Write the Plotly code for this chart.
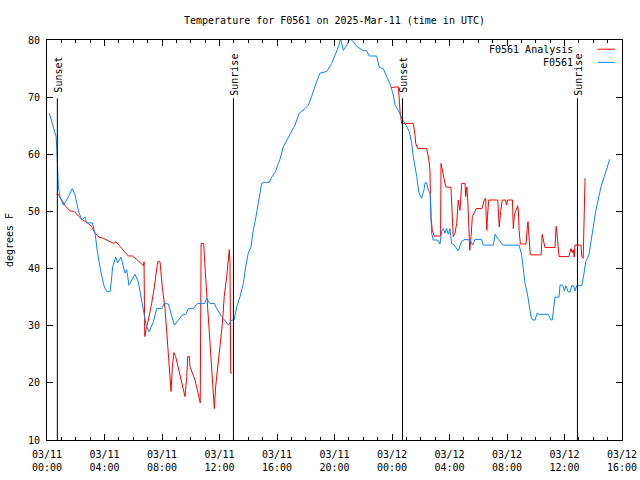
import pandas as pd
import plotly.graph_objects as go

START = pd.Timestamp("2025-03-11 00:00")

# ---- data (hours after 03/11 00:00 UTC, degrees F) ----
obs_hours = [0.16, 0.44, 0.63, 0.68, 0.72, 0.74, 0.79, 0.90, 1.14, 1.37, 1.76, 1.95, 2.18, 2.41, 2.64, 2.76,
             3.15, 3.34, 3.52, 3.76, 3.99, 4.15, 4.40, 4.57, 4.78, 4.91, 5.15, 5.43, 5.55, 5.70, 6.12, 6.35,
             6.59, 6.77, 6.90, 7.10, 7.40, 7.63, 7.98, 8.16, 8.44, 8.86, 9.14, 9.42, 9.65, 9.83, 10.18, 10.48,
             10.95, 11.11, 11.34, 11.64, 11.80, 12.15, 12.62, 12.85, 13.01, 13.20, 13.43, 13.66, 13.82, 14.00,
             14.19, 14.35, 14.54, 14.77, 14.93, 15.12, 15.47, 15.58, 15.90, 16.09, 16.16, 16.44, 16.67, 16.95,
             17.25, 17.55, 17.95, 18.18, 18.41, 18.64, 18.99, 19.46, 19.80, 20.03, 20.27, 20.43, 20.61, 20.85,
             21.08, 21.31, 21.58, 21.96, 22.24, 22.42, 22.93, 23.12, 23.39, 23.63, 23.86, 24.09, 24.21, 24.44,
             24.68, 24.97, 25.20, 25.37, 25.48, 25.72, 25.88, 26.06, 26.22, 26.30, 26.42, 26.53, 26.65, 26.71,
             26.76, 26.87, 27.18, 27.34, 27.45, 27.57, 27.68, 27.80, 27.91, 28.03, 28.15, 28.33, 28.61, 28.85,
             29.08, 29.43, 29.61, 29.77, 30.23, 30.35, 31.05, 31.17, 31.40, 31.74, 32.84, 33.02, 33.13, 33.25,
             33.41, 33.55, 33.67, 33.79, 33.95, 34.10, 34.23, 34.87, 35.06, 35.15, 35.25, 35.34, 35.62, 35.69,
             35.87, 35.99, 36.10, 36.26, 36.40, 36.50, 36.64, 36.73, 36.85, 37.20, 37.34, 37.48, 37.70, 37.84,
             38.00, 38.17, 38.35, 38.54, 38.77, 39.00, 39.14]
obs_temp = [67.2, 64.5, 63.1, 61.3, 57.2, 55.8, 54.3, 52.6, 51.1, 52.0, 54.0, 52.9, 50.2, 48.5, 49.0, 48.0,
            48.0, 46.2, 42.7, 39.2, 36.8, 36.0, 36.0, 40.3, 42.0, 41.0, 42.0, 39.2, 39.8, 37.1, 39.0, 37.7,
            34.5, 31.6, 30.0, 28.9, 30.7, 33.0, 33.0, 33.9, 33.8, 30.1, 31.0, 31.9, 32.0, 33.0, 33.0, 33.9,
            33.9, 34.8, 33.9, 33.9, 33.0, 31.6, 30.1, 31.0, 31.0, 33.3, 35.1, 37.4, 40.3, 42.7,
            43.8, 46.7, 49.1, 52.6, 54.9, 55.1, 55.1, 55.8, 57.0, 58.4, 58.7, 61.3, 62.5, 63.7,
            65.1, 67.2, 68.0, 68.6, 70.1, 71.9, 74.2, 74.5, 75.9, 77.4, 78.8, 80.3, 78.2, 79.1,
            80.2, 79.7, 78.8, 78.2, 78.1, 77.2, 77.2, 75.2, 75.0, 73.6, 72.4, 70.4, 68.6, 67.7,
            66.3, 65.1, 64.0, 61.9, 59.6, 56.1, 53.2, 52.3, 53.7, 55.0, 55.0, 53.7, 53.2, 49.1,
            46.2, 45.0, 45.0, 44.3, 46.5, 47.0, 46.2, 47.0, 46.0, 47.0, 44.4, 44.1, 43.1, 44.8,
            45.1, 45.0, 44.1, 45.1, 45.1, 44.1, 44.1, 46.0, 45.1, 44.1, 44.1, 42.4, 40.0, 37.4,
            35.7, 33.6, 31.6, 31.0, 31.0, 32.2, 32.0, 32.0, 31.0, 31.0, 32.7, 35.0, 35.0, 37.1,
            37.1, 36.1, 37.0, 35.9, 35.9, 37.0, 37.0, 36.1, 37.0, 37.0, 38.9, 41.2, 42.4, 45.0,
            47.3, 50.0, 52.3, 54.3, 56.1, 57.8, 59.1]

ana_hours = [0.67, 0.78, 1.02, 1.30, 1.60, 1.90, 2.18, 2.48, 2.76, 3.10, 3.34, 3.62, 3.92, 4.27, 4.62, 4.80,
             5.08, 5.38, 5.66, 5.94, 6.24, 6.59, 6.72, 6.75, 6.80, 6.90, 7.05, 7.28, 7.47, 7.70, 7.86, 8.02,
             8.21, 8.37, 8.49, 8.63, 8.72, 8.83, 8.95, 9.18, 9.42, 9.60, 9.72, 9.79, 9.90, 9.95, 10.30, 10.52,
             10.66, 10.72, 10.90, 10.99, 11.18, 11.34, 11.46, 11.57, 11.64, 11.73, 11.87, 12.03, 12.20, 12.33,
             12.50, 12.57, 12.61, 12.68, 12.73, 12.78, 12.85,
             None,
             23.93, 24.44, 24.51, 24.56, 24.67, 25.48, 25.60, 25.65, 25.79, 26.41, 26.57, 26.64, 26.71, 26.80,
             26.94, 27.29, 27.38, 27.41, 27.50, 27.64, 27.74, 28.10, 28.19, 28.26, 28.38, 28.50, 28.61, 28.73,
             28.85, 29.08, 29.13, 29.20, 29.27, 29.36, 29.41, 29.50, 29.59, 29.87, 30.26, 30.42, 30.52, 30.55,
             30.60, 30.65, 30.73, 31.36, 31.40, 31.46, 31.56, 31.67, 31.90, 31.97, 32.04, 32.38, 32.44, 32.51,
             32.60, 32.74, 32.79, 32.84, 32.93, 33.32, 33.41, 33.46, 33.53, 33.62, 34.37, 34.42, 34.45, 34.53,
             34.64, 35.34, 35.39, 35.42, 35.52, 35.62, 36.31, 36.45, 36.54, 36.61, 36.68, 36.73, 37.15, 37.20,
             37.30, 37.37, 37.43]
ana_temp = [53.0, 53.0, 52.0, 50.9, 50.1, 50.0, 49.2, 48.5, 48.1, 47.4, 46.2, 45.5, 45.3, 44.9, 44.4, 44.7,
            43.8, 43.0, 42.2, 42.2, 41.6, 40.8, 40.5, 41.2, 28.1, 29.5, 31.0, 33.9, 36.8, 41.2, 41.2, 36.8,
            33.0, 27.5, 23.4, 18.5, 22.8, 25.3, 24.6, 22.2, 19.9, 17.6, 21.1, 24.6, 24.6, 22.8, 20.5, 18.2,
            16.5, 44.4, 44.4, 40.3, 33.3, 28.1, 23.4, 19.3, 15.5, 19.3, 22.2, 26.3, 30.4, 35.1,
            38.6, 40.9, 42.4, 43.3, 40.9, 21.7, 21.7,
            None,
            71.7, 71.8, 69.5, 67.5, 65.4, 65.4, 63.4, 61.9, 61.0, 61.0, 59.0, 57.2, 49.1, 46.7,
            45.7, 45.7, 45.7, 58.4, 57.2, 55.5, 54.3, 54.2, 49.7, 45.6, 46.2, 47.9, 52.0, 50.2,
            54.9, 54.9, 52.6, 54.3, 52.0, 45.0, 43.2, 45.6, 49.1, 50.5, 50.5, 52.0, 52.3, 49.1,
            46.7, 49.4, 52.0, 52.0, 48.8, 47.3, 50.0, 52.0, 52.0, 51.1, 52.0, 52.0, 47.0, 49.4,
            50.0, 51.0, 50.2, 46.7, 44.3, 44.3, 47.0, 48.2, 45.6, 42.4, 42.4, 43.8, 46.0, 45.0,
            43.7, 43.7, 45.6, 47.4, 45.0, 42.1, 42.1, 43.5, 42.8, 43.3, 42.0, 44.1, 44.1, 42.1,
            41.8, 48.8, 55.8]

sun_labels = ["Sunset", "Sunrise", "Sunset", "Sunrise"]
sun_hours = [0.72, 12.97, 24.73, 36.90]

tick_hours = [0, 4, 8, 12, 16, 20, 24, 28, 32, 36, 40]
tick_labels = ["03/11<br>00:00", "03/11<br>04:00", "03/11<br>08:00", "03/11<br>12:00",
               "03/11<br>16:00", "03/11<br>20:00", "03/12<br>00:00", "03/12<br>04:00",
               "03/12<br>08:00", "03/12<br>12:00", "03/12<br>16:00"]

series_names = ["F0561 Analysis", "F0561"]
series_colors = ["#ff0000", "#0a84ff"]


def to_time(hours):
    return [None if h is None else START + pd.Timedelta(hours=h) for h in hours]


FONT = "DejaVu Sans Mono"
fig = go.Figure()
fig.add_trace(go.Scatter(x=to_time(ana_hours), y=ana_temp, mode="lines", name=series_names[0],
                         line=dict(color=series_colors[0], width=1), connectgaps=False, showlegend=False))
fig.add_trace(go.Scatter(x=to_time(obs_hours), y=obs_temp, mode="lines", name=series_names[1],
                         line=dict(color=series_colors[1], width=1), showlegend=False))

SUN_LINE_TOP = 69.8
SUN_LABEL_Y = 74.0
for lab, h in zip(sun_labels, sun_hours):
    t = START + pd.Timedelta(hours=h)
    fig.add_shape(type="line", xref="x", yref="y", x0=t, x1=t, y0=10, y1=SUN_LINE_TOP,
                  line=dict(color="black", width=1))
    fig.add_annotation(x=t, y=SUN_LABEL_Y, xref="x", yref="y", text=lab, textangle=-90,
                       showarrow=False, xanchor="center", yanchor="middle", xshift=1,
                       font=dict(family=FONT, size=10, color="black"))

# gnuplot-style key: text right-aligned, sample line to the right
key_y = [0.977, 0.944]
for name, color, ky in zip(series_names, series_colors, key_y):
    fig.add_annotation(x=0.919, y=ky, xref="paper", yref="paper", text=name, showarrow=False,
                       xanchor="right", yanchor="middle", font=dict(family=FONT, size=10, color="black"))
    fig.add_shape(type="line", xref="paper", yref="paper", x0=0.9577, x1=0.9878, y0=ky, y1=ky,
                  line=dict(color=color, width=1))

fig.update_layout(
    width=640, height=480,
    margin=dict(l=47, r=18, t=40, b=40, autoexpand=False),
    paper_bgcolor="white", plot_bgcolor="white",
    font=dict(family=FONT, size=10, color="black"),
    title=dict(text="Temperature for F0561 on 2025-Mar-11 (time in UTC)", x=0.5, xref="paper",
               y=1 - 20 / 480, yref="container", xanchor="center", yanchor="middle",
               font=dict(family=FONT, size=10, color="black")),
)
fig.update_xaxes(
    type="date", automargin=False,
    range=[START, START + pd.Timedelta(hours=40)],
    tickmode="array",
    tickvals=to_time(tick_hours),
    ticktext=tick_labels,
    ticks="inside", ticklen=6, tickcolor="black", ticklabelstandoff=5,
    minor=dict(dtick=3600000, tick0=START, ticks="inside", ticklen=3, tickcolor="black"),
    showline=True, linecolor="black", linewidth=1, mirror="ticks",
    showgrid=False, zeroline=False,
    tickfont=dict(family=FONT, size=10, color="black"),
)
fig.update_yaxes(
    automargin=False,
    range=[10, 80], dtick=10, tick0=10,
    ticks="inside", ticklen=6, tickcolor="black", ticklabelstandoff=4,
    showline=True, linecolor="black", linewidth=1, mirror="ticks",
    showgrid=False, zeroline=False,
    tickfont=dict(family=FONT, size=10, color="black"),
    title=dict(text="degrees F", standoff=12, font=dict(family=FONT, size=10, color="black")),
)

fig.write_html("out.html", config={"displayModeBar": False},
               post_script="document.body.style.margin='0';document.body.style.padding='0';")
